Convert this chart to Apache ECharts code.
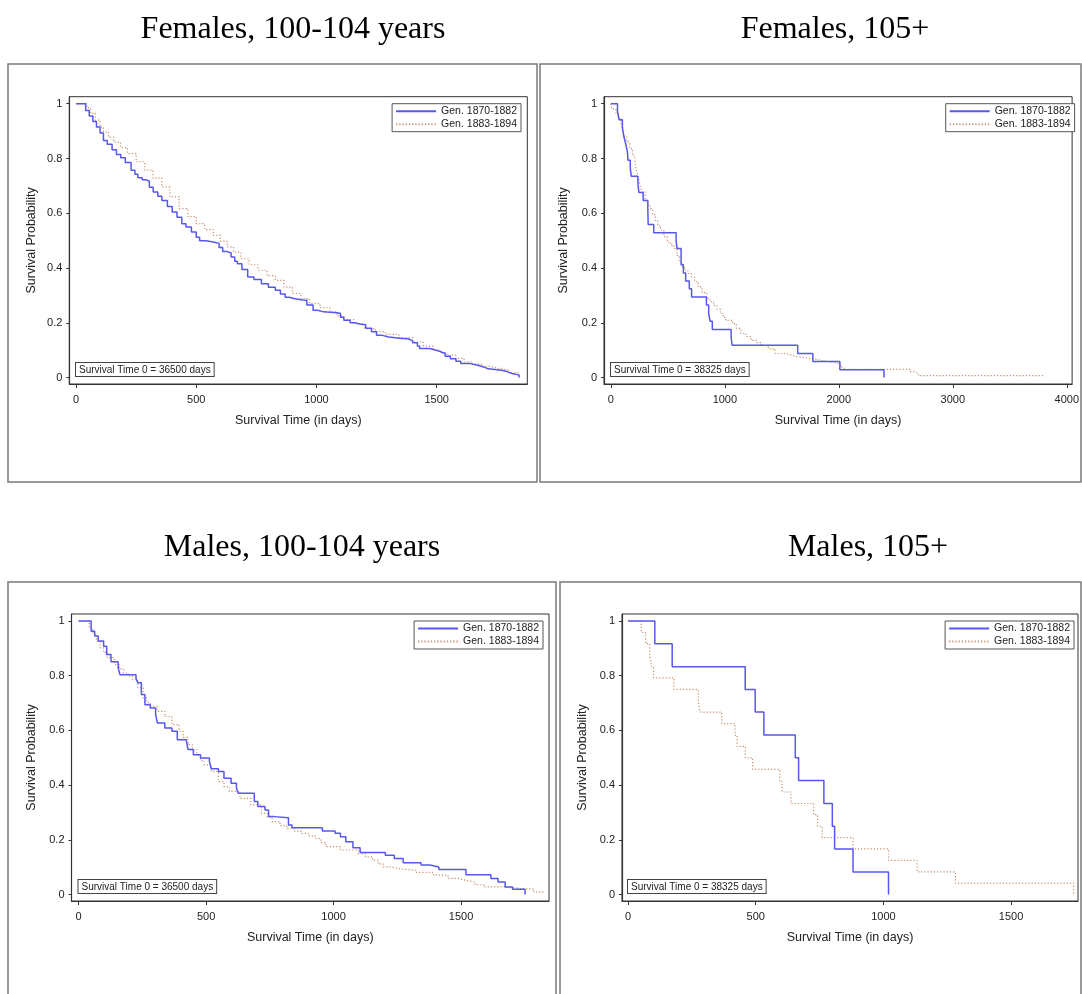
<!DOCTYPE html>
<html>
<head>
<meta charset="utf-8">
<script src="https://cdn.jsdelivr.net/npm/echarts@6/dist/echarts.min.js"></script>
<style>html,body{margin:0;padding:0;background:#fff;}#c{width:1082px;height:994px;}</style>
</head>
<body>
<div id="c"></div>
<script>
// ---------- DATA ----------
const seriesNames = ['Gen. 1870-1882', 'Gen. 1883-1894'];
const panelTitles = ['Females, 100-104 years', 'Females, 105+', 'Males, 100-104 years', 'Males, 105+'];
const startNotes = ['Survival Time 0 = 36500 days', 'Survival Time 0 = 38325 days', 'Survival Time 0 = 36500 days', 'Survival Time 0 = 38325 days'];
const xTitle = 'Survival Time (in days)';
const yTitle = 'Survival Probability';
const xTicks1500 = [0, 500, 1000, 1500];
const xTicks4000 = [0, 1000, 2000, 3000, 4000];
const yTicks = [0, 0.2, 0.4, 0.6, 0.8, 1];

// Females 100-104, Gen. 1870-1882
const f100_g1_t = [0,29,40,55,70,85,100,114,130,150,168,186,205,229,245,257,275,293,305,321,340,357,380,400,420,440,457,480,500,514,540,571,595,610,629,645,660,671,690,714,740,771,800,829,850,870,886,910,943,960,986,1005,1029,1086,1100,1114,1140,1160,1186,1205,1229,1250,1271,1300,1357,1380,1400,1420,1429,1471,1490,1514,1535,1557,1580,1600,1640,1671,1695,1714,1771,1795,1814,1843];
const f100_g1_s = [1,1,0.975,0.955,0.935,0.915,0.893,0.866,0.852,0.832,0.815,0.803,0.785,0.757,0.742,0.73,0.722,0.717,0.695,0.678,0.662,0.647,0.625,0.605,0.585,0.562,0.55,0.532,0.512,0.5,0.495,0.49,0.475,0.46,0.455,0.44,0.425,0.416,0.395,0.367,0.358,0.343,0.33,0.319,0.305,0.293,0.288,0.283,0.282,0.265,0.246,0.24,0.237,0.234,0.22,0.209,0.2,0.195,0.193,0.18,0.167,0.155,0.148,0.143,0.142,0.135,0.127,0.115,0.106,0.102,0.095,0.088,0.078,0.069,0.06,0.051,0.045,0.039,0.032,0.027,0.021,0.015,0.009,0];
// Females 100-104, Gen. 1883-1894
const f100_g2_t = [0,30,45,60,80,100,114,135,157,185,214,250,286,320,357,390,429,465,500,535,571,600,629,655,686,720,757,795,829,865,900,935,971,1015,1057,1085,1114,1155,1200,1245,1286,1343,1400,1445,1486,1515,1543,1580,1614,1650,1686,1720,1757,1800,1843];
const f100_g2_s = [1,1,0.985,0.965,0.94,0.915,0.897,0.878,0.86,0.84,0.818,0.788,0.757,0.728,0.696,0.66,0.617,0.588,0.562,0.54,0.519,0.498,0.477,0.458,0.434,0.412,0.392,0.372,0.355,0.33,0.307,0.288,0.27,0.255,0.24,0.226,0.212,0.196,0.179,0.168,0.158,0.146,0.13,0.115,0.1,0.091,0.082,0.07,0.057,0.049,0.041,0.034,0.027,0.017,0.002];

// Females 105+, Gen. 1870-1882
const f105_g1_t = [0,58,72,101,113,130,145,150,170,179,237,246,283,324,327,376,572,581,616,636,656,688,708,838,858,870,890,1055,1064,1639,1772,2009,2396];
const f105_g1_s = [1,0.971,0.941,0.912,0.882,0.853,0.824,0.794,0.765,0.735,0.706,0.676,0.647,0.618,0.559,0.529,0.5,0.471,0.412,0.382,0.353,0.324,0.294,0.265,0.235,0.206,0.176,0.147,0.118,0.088,0.059,0.029,0];
// Females 105+, Gen. 1883-1894
const f105_g2_t = [0,10,45,70,90,105,120,140,165,190,210,225,240,255,270,300,320,345,365,390,410,435,465,495,525,556,580,601,625,646,675,706,735,766,800,841,870,901,930,961,985,1006,1066,1100,1141,1185,1231,1280,1321,1380,1441,1532,1580,1652,1772,1850,1922,1980,2012,2042,2627,2660,2700,3808];
const f105_g2_s = [1,0.98,0.963,0.945,0.927,0.9,0.878,0.86,0.836,0.81,0.781,0.755,0.732,0.705,0.678,0.647,0.63,0.617,0.595,0.574,0.555,0.538,0.515,0.495,0.483,0.471,0.445,0.422,0.405,0.392,0.38,0.367,0.35,0.331,0.31,0.288,0.277,0.264,0.25,0.234,0.22,0.209,0.197,0.18,0.161,0.15,0.136,0.128,0.118,0.105,0.088,0.082,0.075,0.069,0.063,0.058,0.054,0.047,0.039,0.03,0.022,0.015,0.007,0.007];

// Males 100-104, Gen. 1870-1882
const m100_g1_t = [0,35,49,63,77,98,110,127,155,162,225,232,246,260,281,302,309,338,366,387,422,429,450,478,513,520,548,570,598,619,626,689,703,731,745,767,823,837,956,1006,1027,1048,1076,1104,1203,1238,1273,1343,1378,1413,1519,1617,1645,1673,1702,1751];
const m100_g1_s = [1,1,0.963,0.945,0.927,0.908,0.878,0.851,0.829,0.804,0.79,0.774,0.731,0.694,0.682,0.658,0.627,0.609,0.597,0.566,0.56,0.53,0.511,0.499,0.487,0.46,0.45,0.425,0.407,0.389,0.37,0.34,0.322,0.309,0.285,0.281,0.254,0.244,0.232,0.224,0.211,0.193,0.171,0.154,0.144,0.132,0.116,0.108,0.101,0.092,0.073,0.059,0.046,0.028,0.02,0];
// Males 100-104, Gen. 1883-1894
const m100_g2_t = [0,28,42,56,70,84,98,112,141,160,176,195,211,232,253,268,281,309,338,366,394,410,429,446,464,478,492,520,548,570,591,633,675,717,740,759,790,816,845,872,900,928,950,970,1027,1097,1125,1153,1175,1195,1225,1252,1322,1392,1449,1490,1519,1555,1589,1659,1743,1786,1821];
const m100_g2_s = [1,1,0.975,0.951,0.925,0.902,0.885,0.866,0.841,0.825,0.81,0.798,0.786,0.756,0.719,0.702,0.688,0.67,0.651,0.621,0.597,0.575,0.548,0.53,0.511,0.49,0.474,0.45,0.413,0.395,0.377,0.352,0.328,0.297,0.282,0.267,0.252,0.242,0.232,0.224,0.215,0.205,0.19,0.175,0.163,0.15,0.138,0.126,0.112,0.101,0.095,0.089,0.081,0.071,0.059,0.052,0.046,0.036,0.028,0.022,0.02,0.01,0];

// Males 105+, Gen. 1870-1882
const m105_g1_t = [0,105,173,459,498,532,655,668,767,800,809,881,1020];
const m105_g1_s = [1,0.917,0.833,0.75,0.667,0.583,0.5,0.417,0.333,0.25,0.167,0.083,0];
// Males 105+, Gen. 1883-1894
const m105_g2_t = [0,52,69,85,92,100,180,275,282,367,419,427,459,488,594,603,638,727,742,760,881,1020,1132,1282,1745];
const m105_g2_s = [1,0.958,0.917,0.875,0.833,0.792,0.75,0.708,0.667,0.625,0.583,0.542,0.5,0.458,0.417,0.375,0.333,0.292,0.25,0.208,0.167,0.125,0.083,0.042,0];

// ---------- LAYOUT ----------
const SANS = 'Liberation Sans, Arial, sans-serif';
const SERIF = 'Liberation Serif, Times New Roman, serif';
const BLUE = '#5757ee';
const BROWN = '#c48e6e';

const panels = [
  { box:[8,64,529,418], titleX:293, titleY:30, grid:{left:69.3, top:96.7, width:458, height:287.3}, xMin:-28, xMax:1877, xTicks:xTicks1500, nameGapY:31, legendRight:561, note:[76,363], g1:[f100_g1_t,f100_g1_s], g2:[f100_g2_t,f100_g2_s] },
  { box:[540,64,541,418], titleX:835, titleY:30, grid:{left:604, top:96.7, width:475, height:287.3}, xMin:-60.5, xMax:4047, xTicks:xTicks4000, nameGapY:34, legendRight:7.4, note:[611,363], g1:[f105_g1_t,f105_g1_s], g2:[f105_g2_t,f105_g2_s] },
  { box:[8,582,548,430], titleX:302, titleY:548, grid:{left:71.5, top:614, width:477.5, height:287}, xMin:-28, xMax:1845, xTicks:xTicks1500, nameGapY:33, legendRight:539, note:[78.5,880], g1:[m100_g1_t,m100_g1_s], g2:[m100_g2_t,m100_g2_s] },
  { box:[560,582,521,430], titleX:868, titleY:548, grid:{left:622, top:614, width:456, height:287}, xMin:-23.5, xMax:1762, xTicks:xTicks1500, nameGapY:33, legendRight:8, note:[628,880], g1:[m105_g1_t,m105_g1_s], g2:[m105_g2_t,m105_g2_s] }
];

const zip = (t, s) => t.map((v, i) => [v, s[i]]);
const plainNum = v => String(v);

const grids = [], xAxes = [], yAxes = [], series = [], legends = [], graphics = [];
panels.forEach((p, i) => {
  grids.push(Object.assign({ show:true, borderColor:'#333', borderWidth:1, backgroundColor:'#fff', containLabel:false }, p.grid));
  xAxes.push({
    type:'value', gridIndex:i, min:p.xMin, max:p.xMax,
    axisLine:{ show:true, onZero:false, lineStyle:{ color:'#333', width:1.2 } },
    axisTick:{ show:true, length:4, customValues:p.xTicks, lineStyle:{ color:'#333' } },
    axisLabel:{ customValues:p.xTicks, formatter:plainNum, fontSize:11, color:'#222', margin:10, fontFamily:SANS },
    splitLine:{ show:false },
    name:xTitle, nameLocation:'middle', nameGap:30,
    nameTextStyle:{ fontSize:12.5, color:'#222', fontFamily:SANS }
  });
  yAxes.push({
    type:'value', gridIndex:i, min:-0.0234, max:1.0256,
    axisLine:{ show:true, onZero:false, lineStyle:{ color:'#333', width:1.2 } },
    axisTick:{ show:true, length:3, customValues:yTicks, lineStyle:{ color:'#333' } },
    axisLabel:{ customValues:yTicks, formatter:plainNum, fontSize:11, color:'#222', margin:7, fontFamily:SANS },
    splitLine:{ show:false },
    name:yTitle, nameLocation:'middle', nameGap:p.nameGapY,
    nameTextStyle:{ fontSize:12.5, color:'#222', fontFamily:SANS }
  });
  series.push({
    name:seriesNames[0], type:'line', step:'end', xAxisIndex:i, yAxisIndex:i,
    symbol:'none', showSymbol:false, z:3,
    lineStyle:{ color:BLUE, width:1.5, type:'solid' }, itemStyle:{ color:BLUE },
    data:zip(p.g1[0], p.g1[1])
  });
  series.push({
    name:seriesNames[1], type:'line', step:'end', xAxisIndex:i, yAxisIndex:i,
    symbol:'none', showSymbol:false, z:2,
    lineStyle:{ color:BROWN, width:1.2, type:[1.2,2] }, itemStyle:{ color:BROWN },
    data:zip(p.g2[0], p.g2[1])
  });
  legends.push({
    data:seriesNames, orient:'vertical', right:p.legendRight, top:p.grid.top + 7,
    borderColor:'#555', borderWidth:1, backgroundColor:'#fff',
    padding:[2,4,2,3], itemGap:2, itemWidth:40, itemHeight:10, selectedMode:false,
    itemStyle:{ opacity:0 },
    textStyle:{ fontSize:10.5, color:'#222', fontFamily:SANS }
  });
  graphics.push({
    type:'rect', z:-10, silent:true,
    shape:{ x:p.box[0], y:p.box[1], width:p.box[2], height:p.box[3] },
    style:{ fill:'none', stroke:'#7a7a7a', lineWidth:1.5 }
  });
  graphics.push({
    type:'text', silent:true, x:p.titleX, y:p.titleY,
    style:{ text:panelTitles[i], align:'center', verticalAlign:'middle', fontSize:32, fontFamily:SERIF, fill:'#000' }
  });
  graphics.push({
    type:'text', silent:true, z:100, x:p.note[0], y:p.note[1],
    style:{ text:startNotes[i], fontSize:10, fontFamily:SANS, fill:'#222', backgroundColor:'#fff', borderColor:'#444', borderWidth:1, padding:[2,3,1,3] }
  });
});

const chart = echarts.init(document.getElementById('c'), null, { renderer:'canvas' });
chart.setOption({
  animation:false,
  backgroundColor:'#fff',
  grid:grids, xAxis:xAxes, yAxis:yAxes, series:series, legend:legends, graphic:graphics
});
</script>
</body>
</html>
